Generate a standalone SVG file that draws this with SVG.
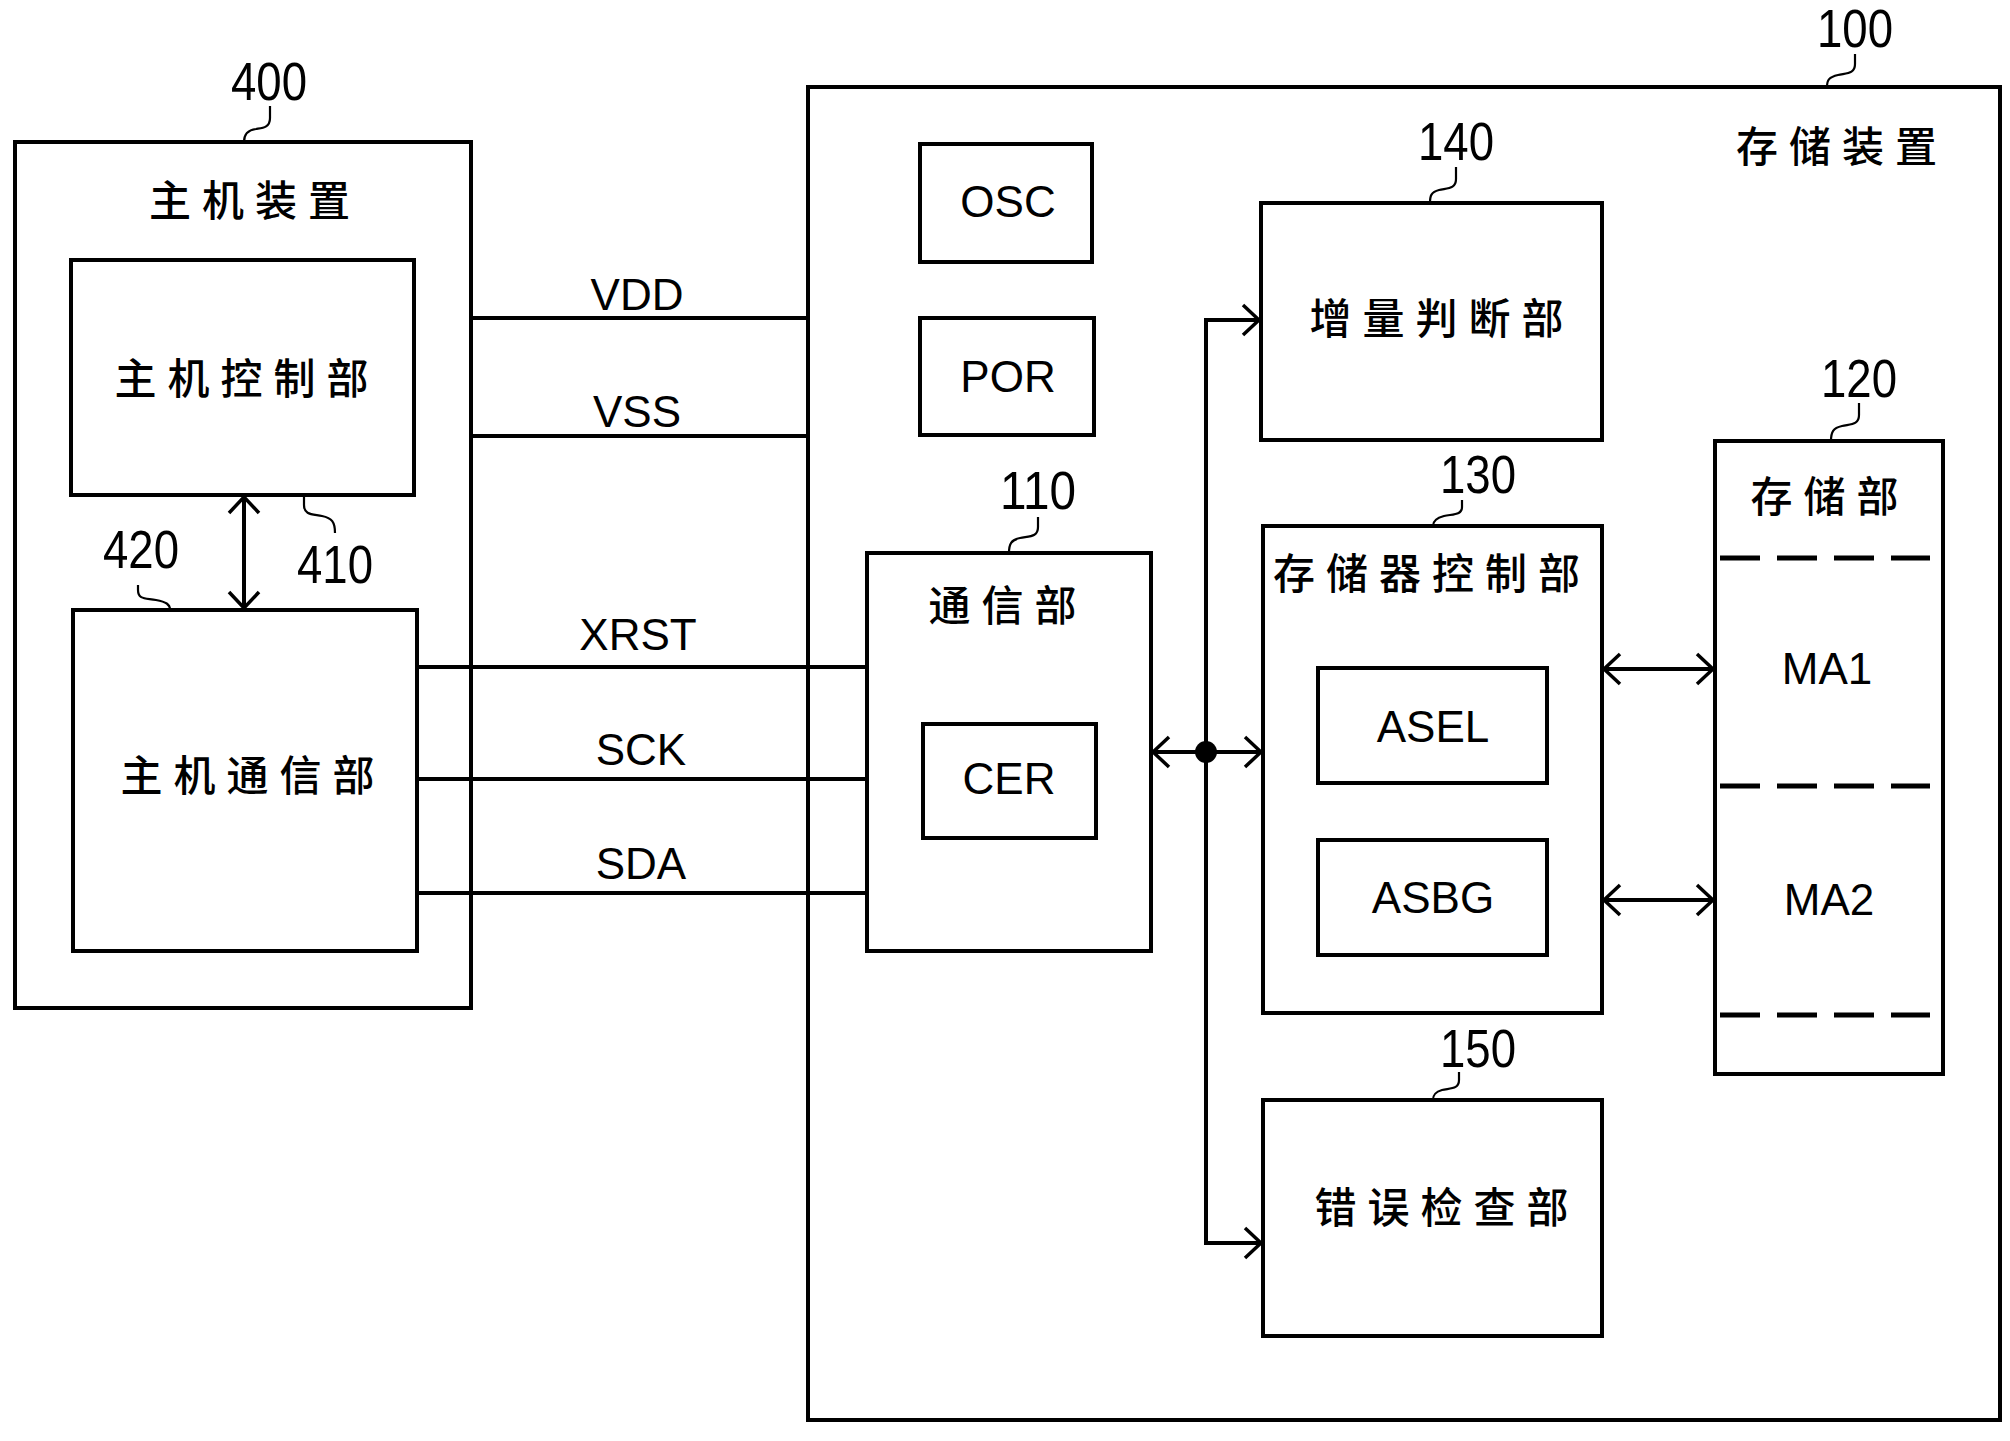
<svg xmlns="http://www.w3.org/2000/svg" width="2010" height="1441" viewBox="0 0 2010 1441">
<defs>
<marker id="ah" viewBox="0 0 20 34" refX="18" refY="17" markerWidth="20" markerHeight="34" markerUnits="userSpaceOnUse" orient="auto-start-reverse">
<path d="M2,2 L18,17 L2,32" fill="none" stroke="#000" stroke-width="3.5"/>
</marker>
</defs>
<style>
.box{fill:#fff;stroke:#000;stroke-width:4}
.ln{fill:none;stroke:#000;stroke-width:4}
.ld{fill:none;stroke:#000;stroke-width:2.2}
.cjk{font-family:"Noto Sans CJK SC","Noto Sans CJK JP",sans-serif;font-size:42px;font-weight:500;letter-spacing:11px;text-anchor:middle}
.lat{font-family:"Liberation Sans",Arial,sans-serif;font-size:44px;text-anchor:middle}
.num{font-family:"Liberation Sans",Arial,sans-serif;font-size:54px;text-anchor:middle}
.dash{fill:none;stroke:#000;stroke-width:5;stroke-dasharray:40 17}
</style>
<rect width="2010" height="1441" fill="#fff"/>

<g id="host400">
<rect class="box" x="15" y="142" width="456" height="866"/>
<text class="cjk" x="255" y="216">主机装置</text>
<text class="num" x="269" y="100" textLength="76" lengthAdjust="spacingAndGlyphs">400</text>
<path class="ld" d="M270,106 V118 C270,128 262,128 256,129 C248,130 244,134 244,142"/>
</g>

<g id="ctrl410">
<rect class="box" x="71" y="260" width="343" height="235"/>
<text class="cjk" x="247" y="394">主机控制部</text>
<text class="num" x="335" y="583" textLength="76" lengthAdjust="spacingAndGlyphs">410</text>
<path class="ld" d="M304,497 V505 C304,515 312,514 322,516 C332,518 335,522 335,533"/>
</g>

<g id="comm420">
<rect class="box" x="73" y="610" width="344" height="341"/>
<text class="cjk" x="253" y="791">主机通信部</text>
<text class="num" x="141" y="568" textLength="76" lengthAdjust="spacingAndGlyphs">420</text>
<path class="ld" d="M138,585 V590 C138,600 146,598 156,600 C166,602 170,604 170,610"/>
</g>

<g id="dev100">
<rect class="box" x="808" y="87" width="1192" height="1333"/>
<text class="cjk" x="1842" y="162">存储装置</text>
<text class="num" x="1855" y="47" textLength="76" lengthAdjust="spacingAndGlyphs">100</text>
<path class="ld" d="M1855,54 V64 C1855,74 1847,73 1838,75 C1829,77 1827,80 1827,87"/>
</g>

<g id="osc">
<rect class="box" x="920" y="144" width="172" height="118"/>
<text class="lat" x="1008" y="217">OSC</text>
</g>

<g id="por">
<rect class="box" x="920" y="318" width="174" height="117"/>
<text class="lat" x="1008" y="392">POR</text>
</g>

<g id="comm110">
<rect class="box" x="867" y="553" width="284" height="398"/>
<text class="cjk" x="1008" y="621">通信部</text>
<text class="num" x="1038" y="509" textLength="76" lengthAdjust="spacingAndGlyphs">110</text>
<path class="ld" d="M1038,517 V527 C1038,537 1030,536 1020,538 C1011,540 1009,544 1009,553"/>
</g>

<g id="cer">
<rect class="box" x="923" y="724" width="173" height="114"/>
<text class="lat" x="1009" y="794">CER</text>
</g>

<g id="inc140">
<rect class="box" x="1261" y="203" width="341" height="237"/>
<text class="cjk" x="1442" y="334">增量判断部</text>
<text class="num" x="1456" y="160" textLength="76" lengthAdjust="spacingAndGlyphs">140</text>
<path class="ld" d="M1456,167 V179 C1456,189 1448,188 1439,190 C1431,192 1430,196 1430,203"/>
</g>

<g id="memctrl130">
<rect class="box" x="1263" y="526" width="339" height="487"/>
<text class="cjk" x="1432" y="589">存储器控制部</text>
<text class="num" x="1478" y="493" textLength="76" lengthAdjust="spacingAndGlyphs">130</text>
<path class="ld" d="M1462,500 V507 C1462,515 1454,514 1444,516 C1436,518 1433,521 1433,526"/>
</g>

<g id="asel">
<rect class="box" x="1318" y="668" width="229" height="115"/>
<text class="lat" x="1433" y="742">ASEL</text>
</g>

<g id="asbg">
<rect class="box" x="1318" y="840" width="229" height="115"/>
<text class="lat" x="1433" y="913">ASBG</text>
</g>

<g id="err150">
<rect class="box" x="1263" y="1100" width="339" height="236"/>
<text class="cjk" x="1447" y="1223">错误检查部</text>
<text class="num" x="1478" y="1067" textLength="76" lengthAdjust="spacingAndGlyphs">150</text>
<path class="ld" d="M1459,1072 V1080 C1459,1089 1451,1088 1442,1090 C1435,1092 1433,1095 1433,1100"/>
</g>

<g id="mem120">
<rect class="box" x="1715" y="441" width="228" height="633"/>
<text class="cjk" x="1830" y="512">存储部</text>
<text class="num" x="1859" y="397" textLength="76" lengthAdjust="spacingAndGlyphs">120</text>
<path class="ld" d="M1859,403 V415 C1859,425 1851,424 1842,426 C1833,428 1831,432 1831,441"/>
<path class="dash" d="M1720,558 H1930"/>
<path class="dash" d="M1720,786 H1930"/>
<path class="dash" d="M1720,1015 H1930"/>
<text class="lat" x="1827" y="684">MA1</text>
<text class="lat" x="1829" y="915">MA2</text>
</g>

<g id="connectors">
<path class="ln" d="M471,318 H808"/>
<path class="ln" d="M471,436 H808"/>
<path class="ln" d="M417,667 H867"/>
<path class="ln" d="M417,779 H867"/>
<path class="ln" d="M417,893 H867"/>
<path class="ln" d="M244,497 V608" marker-start="url(#ah)" marker-end="url(#ah)"/>
<path class="ln" d="M1259,320 H1206 V1243 H1261" marker-start="url(#ah)" marker-end="url(#ah)"/>
<path class="ln" d="M1153,752 H1261" marker-start="url(#ah)" marker-end="url(#ah)"/>
<circle cx="1206" cy="752" r="11" fill="#000"/>
<path class="ln" d="M1604,669 H1713" marker-start="url(#ah)" marker-end="url(#ah)"/>
<path class="ln" d="M1604,900 H1713" marker-start="url(#ah)" marker-end="url(#ah)"/>
<text class="lat" x="637" y="310">VDD</text>
<text class="lat" x="637" y="427">VSS</text>
<text class="lat" x="638" y="650">XRST</text>
<text class="lat" x="641" y="765">SCK</text>
<text class="lat" x="641" y="879">SDA</text>
</g>
</svg>
